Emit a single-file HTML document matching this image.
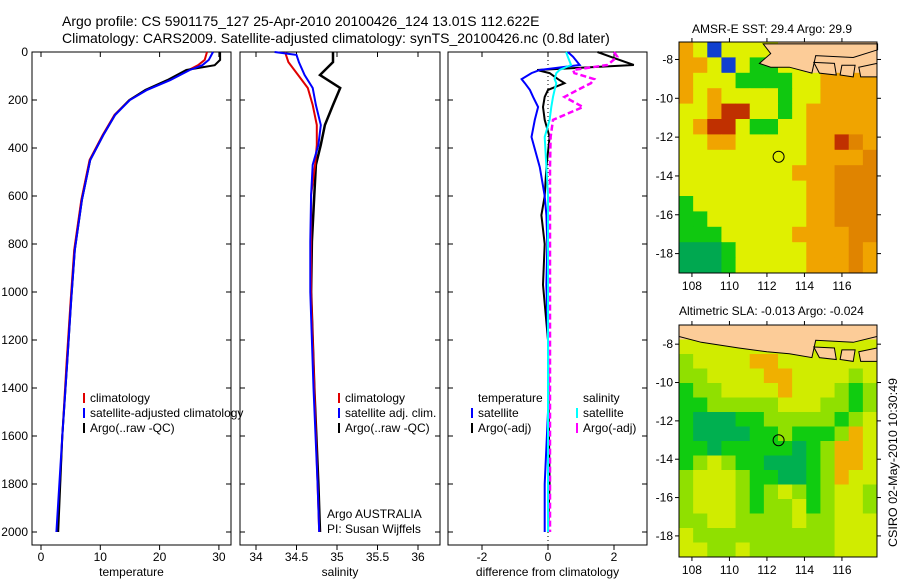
<!DOCTYPE html>
<html><head><meta charset="utf-8">
<style>
body{margin:0;background:#fff;}
svg{display:block;font-family:"Liberation Sans",sans-serif;}
text{font-size:12px;fill:#000;}
</style></head>
<body>
<svg id="fig" width="900" height="580" viewBox="0 0 900 580" xmlns="http://www.w3.org/2000/svg">
<text x="62" y="26" style="font-size:14px">Argo profile: CS 5901175_127 25-Apr-2010 20100426_124 13.01S 112.622E</text>
<text x="62" y="43" style="font-size:14px">Climatology: CARS2009. Satellite-adjusted climatology: synTS_20100426.nc (0.8d later)</text>
<g id="g1"></g>
<g id="g2"></g>
<g id="g3"></g>
<g id="m1"></g>
<g id="m2"></g>
<text x="692" y="33">AMSR-E SST: 29.4 Argo: 29.9</text>
<text x="679" y="315">Altimetric SLA: -0.013 Argo: -0.024</text>
<text transform="translate(897,547) rotate(-90)" x="0" y="0" textLength="169" lengthAdjust="spacingAndGlyphs">CSIRO 02-May-2010 10:30:49</text>
</svg>
<script>
// ---- data ----
const depthTicks=[0,200,400,600,800,1000,1200,1400,1600,1800,2000];
const tempTicks=[0,10,20,30];
const salTicks=[34,34.5,35,35.5,36];
const salTickLabels=["34","34.5","35","35.5","36"];
const diffTicks=[-2,0,2];
const lonTicks=[108,110,112,114,116];
const latTicks=[-8,-10,-12,-14,-16,-18];

const tDepth=[0,33,55,75,117,158,200,262,346,450,617,825,1033,1300,1600,2000];
const tClim=[28,27.6,26.5,24.9,21.6,17.7,14.9,12.4,10.4,8.2,6.8,5.6,5.0,4.3,3.6,2.8];
const tSat=[29,28.3,27.2,25.1,21.8,17.9,15,12.5,10.5,8.3,6.9,5.7,5.1,4.4,3.6,2.6];
const tArgo=[30.2,30.2,29.3,24.5,21.3,17.6,14.9,12.5,10.5,8.3,6.9,5.7,5.1,4.4,3.6,2.9];

const sDepth=[0,12,42,96,150,221,304,387,470,596,790,1000,1400,1800,2000];
const sClim=[34.36,34.37,34.4,34.52,34.64,34.7,34.75,34.75,34.73,34.68,34.68,34.68,34.72,34.76,34.78];
const sSat=[34.23,34.5,34.53,34.6,34.7,34.74,34.8,34.77,34.7,34.68,34.67,34.67,34.71,34.76,34.78];
const sArgo=[34.95,34.95,34.95,34.79,35.04,34.95,34.85,34.8,34.74,34.72,34.69,34.68,34.72,34.77,34.79];

const dDepth=[0,20,54,75,88,113,130,158,187,229,283,354,480,600,680,800,970,1200,1500,1800,2000];
const dTempSat=[0.6,0.76,0.96,-0.25,-0.5,-0.8,-0.7,-0.55,-0.45,-0.3,-0.4,-0.5,-0.25,-0.1,-0.05,-0.02,-0.05,0,0,-0.1,-0.1];
const dTempArgo=[1.5,1.9,2.6,-0.33,0.05,0.3,0.5,0.0,-0.1,-0.15,-0.1,0.05,-0.05,-0.1,-0.2,-0.1,-0.15,0,0.02,0.05,0.0];
const dSalSat=[0.55,0.6,0.7,0.35,0.25,0.2,0.25,0.2,0.15,0.1,0.05,-0.1,-0.05,0,0,0,0,0,0,0,0];
const dSalArgo=[2.0,2.1,1.8,0.76,0.8,1.4,1.3,0.9,0.5,1.06,0.15,0.08,0.06,0.06,0.06,0.06,0.06,0.06,0.06,0.06,0.06];

const sstRows=["oybyyyylllllll","ooybyggyylllll","oyyyggggyyoooo","oyoyyyygyyoooo","yyorryygyooooo","yorryggyyooooo","yyooyyyyyoorOo","yyyyyyyyyooooO","yyyyyyyyoooOOO","yyyyyyyyyooOOO","gyyyyyyyyooOOO","ggyyyyyyyooOOO","gggyyyyyooooOO","GGGgyyyyyoooOo","GGGgyyyyyoooOo"];
const slaRows=["LLLLLLLLLLLLLL","yyyyyyyyyyyyyy","lyyyyooyyyyyyy","llyyyyooyyyyly","gllyyyyoyyylgl","gglllllyyyllgl","gGGGgglllllgly","gGGGGgglgggloy","ggGgggggGglooy","glylggGGGglooy","lyyylggGGgloyy","lyyylglylglyyl","lyyylgllyglyyl","llyyllllyllyyy","yllllllllllyyy","yyllyllllllyyy"];
const sstColors={o:"#f0a400",O:"#e08400",y:"#e0f000",g:"#10c810",G:"#00a850",r:"#c03000",b:"#1040d0",l:"#fccc98",L:"#fccc98"};
const slaColors={o:"#f0b000",y:"#d0ec00",l:"#90e000",g:"#10cc10",G:"#00b050",L:"#fccc98"};

// ---- drawing ----
const NS="http://www.w3.org/2000/svg";
function mk(tag,attrs,parent){const e=document.createElementNS(NS,tag);for(const k in attrs)e.setAttribute(k,attrs[k]);parent.appendChild(e);return e;}
const Y0=52,YB=545,YPX=0.24;
const yD=d=>Y0+d*YPX;

function panel(g,x0,x1,xScale,xt,xtl,title,showY){
  const r=mk('rect',{x:x0,y:Y0,width:x1-x0,height:YB-Y0,fill:'none',stroke:'#000'},g);
  
  
  xt.forEach((v,i)=>{const x=xScale(v);
    mk('line',{x1:x,x2:x,y1:YB,y2:YB+5,stroke:'#000'},g);
    mk('line',{x1:x,x2:x,y1:Y0,y2:Y0+5,stroke:'#000'},g);
    const tx=mk('text',{x:x,y:561,'text-anchor':'middle'},g);tx.textContent=xtl[i];
    
    });
  depthTicks.forEach(d=>{const y=yD(d);
    mk('line',{x1:x0,x2:x0+5,y1:y,y2:y,stroke:'#000'},g);
    mk('line',{x1:x1,x2:x1-5,y1:y,y2:y,stroke:'#000'},g);
    if(showY){const tx=mk('text',{x:x0-4,y:y+4,'text-anchor':'end'},g);tx.textContent=d;
      
      }});
  const at=mk('text',{x:(x0+x1)/2,y:576,'text-anchor':'middle'},g);
  
  
  at.textContent=title;
}
function line(g,xs,ds,xScale,color,w,name,dash){
  const p=ds.map((d,i)=>xScale(xs[i]).toFixed(1)+','+yD(d).toFixed(1)).join(' ');
  const pl=mk('polyline',{points:p,fill:'none',stroke:color,'stroke-width':w},g);
  if(dash)pl.setAttribute('stroke-dasharray',dash);
  
  
}
function legend(g,x,y,items){
  items.forEach((it,i)=>{const yy=y+i*15;
    if(it[1]){mk('line',{x1:x,x2:x,y1:yy-9,y2:yy+1,stroke:it[1],'stroke-width':2},g);}
    const t=mk('text',{x:x+6,y:yy},g);t.textContent=it[0];
    
    });
}
const g1=document.getElementById('g1');
const xT=v=>41+v*5.93;
panel(g1,32,231,xT,tempTicks,tempTicks.map(String),'temperature',true);
line(g1,tClim,tDepth,xT,'#e00000',2,'temp-climatology-line');
line(g1,tArgo,tDepth,xT,'#000',2,'temp-argo-line');
line(g1,tSat,tDepth,xT,'#0000ff',2,'temp-satellite-line');
legend(g1,84,402,[['climatology','#e00000'],['satellite-adjusted climatology','#0000ff'],['Argo(..raw -QC)','#000']]);

const g2=document.getElementById('g2');
const xS=v=>256+(v-34)*81;
panel(g2,240,440,xS,salTicks,salTickLabels,'salinity',false);
line(g2,sArgo,sDepth,xS,'#000',2.5,'sal-argo-line');
line(g2,sClim,sDepth,xS,'#e00000',2,'sal-climatology-line');
line(g2,sSat,sDepth,xS,'#0000ff',2,'sal-satellite-line');
legend(g2,339,402,[['climatology','#e00000'],['satellite adj. clim.','#0000ff'],['Argo(..raw -QC)','#000']]);
legend(g2,321,518,[['Argo AUSTRALIA',null],['PI: Susan Wijffels',null]]);

const g3=document.getElementById('g3');
const xDf=v=>548+v*33;
panel(g3,448,647,xDf,diffTicks,diffTicks.map(String),'difference from climatology',false);
mk('line',{x1:548,x2:548,y1:Y0,y2:YB,stroke:'#000','stroke-dasharray':'1,3'},g3);
line(g3,dTempArgo,dDepth,xDf,'#000',2,'diff-temp-argo-line');
line(g3,dTempSat,dDepth,xDf,'#0000ff',2,'diff-temp-satellite-line');
line(g3,dSalArgo,dDepth,xDf,'#ff00ff',2.5,'diff-sal-argo-line','6,3');
line(g3,dSalSat,dDepth,xDf,'#00ffff',2,'diff-sal-satellite-line');
legend(g3,472,402,[['temperature',null],['satellite','#0000ff'],['Argo(-adj)','#000']]);
legend(g3,577,402,[['salinity',null],['satellite','#00ffff'],['Argo(-adj)','#ff00ff']]);

function map(gid,top,bot,latTop,latBot,rows,colors,landPoly){
  const g=document.getElementById(gid);
  const x0=679,x1=877,lon0=107.31,lon1=117.87;
  const lx=l=>x0+(l-lon0)*(x1-x0)/(lon1-lon0);
  const ly=l=>top+(latTop-l)*(bot-top)/(latTop-latBot);
  const nr=rows.length,nc=rows[0].length,cw=(x1-x0)/nc,ch=(bot-top)/nr;
  rows.forEach((row,r)=>{[...row].forEach((c,k)=>{
    const cell=mk('rect',{x:x0+k*cw,y:top+r*ch,width:cw+0.5,height:ch+0.5,fill:colors[c]},g);
    
    });});
  landPoly.forEach(poly=>{
    const p=poly.map(q=>lx(q[0]).toFixed(1)+','+ly(q[1]).toFixed(1)).join(' ');
    const lp=mk('polygon',{points:p,fill:'#fccc98',stroke:'#000','stroke-width':1},g);
    
    });
  const fr=mk('rect',{x:x0,y:top,width:x1-x0,height:bot-top,fill:'none',stroke:'#000'},g);
  
  
  lonTicks.forEach(l=>{const x=lx(l);
    mk('line',{x1:x,x2:x,y1:top,y2:top-4,stroke:'#000'},g);
    mk('line',{x1:x,x2:x,y1:bot,y2:bot+4,stroke:'#000'},g);
    const t=mk('text',{x:x,y:bot+17,'text-anchor':'middle'},g);t.textContent=l;
    
    });
  latTicks.forEach(l=>{const y=ly(l);
    mk('line',{x1:x0,x2:x0-4,y1:y,y2:y,stroke:'#000'},g);
    mk('line',{x1:x1,x2:x1+4,y1:y,y2:y,stroke:'#000'},g);
    const t=mk('text',{x:x0-6,y:y+4,'text-anchor':'end'},g);t.textContent=l;
    
    });
  const c=mk('circle',{cx:lx(112.622),cy:ly(-13.01),r:5.5,fill:'none',stroke:'#000'},g);
  
  
}
const java1=[[111.8,-7.2],[117.9,-7.2],[117.9,-7.5],[116.6,-7.9],[114.6,-7.8],[114.4,-8.7],[113.2,-8.4],[112.2,-8.4],[111.6,-8.2],[112.2,-7.7]];
const islands=[[[114.5,-8.15],[115.6,-8.2],[115.7,-8.8],[114.8,-8.7]],[[116,-8.3],[116.7,-8.3],[116.6,-8.9],[115.9,-8.8]],[[116.9,-8.4],[117.87,-8.2],[117.87,-8.9],[117,-8.9]]];
const java2=[[107.31,-7.0],[117.87,-7.0],[117.87,-7.6],[116.6,-7.9],[114.6,-7.8],[114.4,-8.7],[113.2,-8.5],[112,-8.4],[110.5,-8.2],[108.5,-7.9],[107.31,-7.6]];
map('m1',42,273,-7.1,-19.0,sstRows,sstColors,[java1].concat(islands));
map('m2',325,557,-7.0,-19.1,slaRows,slaColors,[java2].concat(islands));
</script>
</body></html>
